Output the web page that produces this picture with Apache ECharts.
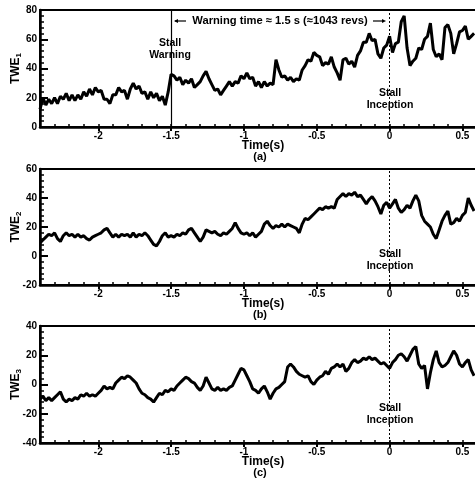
<!DOCTYPE html>
<html>
<head>
<meta charset="utf-8">
<script src="https://cdn.jsdelivr.net/npm/echarts@6/dist/echarts.min.js"></script>
<style>
  html, body { margin: 0; padding: 0; background: #fff; }
  #main { width: 475px; height: 479px; }
</style>
</head>
<body>
<div id="main"></div>
<script>
// time axis: samples every 0.02 s from -2.40 s
var t0 = -2.4, dt = 0.02;

var twe1 = [12, 20, 15, 19, 16, 20, 16, 21, 19, 23, 18, 22, 18, 22, 19, 24, 21, 26, 22, 27,
  24, 25, 19, 19, 16, 22, 22, 27, 24, 25, 19, 26, 30, 26, 28, 23, 24, 19, 24, 20,
  23, 18, 21, 15, 24, 36, 35, 32, 34, 29, 32, 30, 33, 27, 29, 31, 35, 38, 33, 29,
  25, 26, 22, 25, 28, 31, 28, 31, 30, 35, 33, 37, 33, 34, 28, 31, 27, 31, 28, 30,
  29, 46, 39, 34, 35, 32, 34, 31, 33, 32, 39, 42, 46, 45, 51, 49, 48, 42, 44, 43,
  48, 41, 37, 32, 46, 47, 43, 45, 41, 49, 52, 58, 58, 64, 59, 60, 50, 47, 54, 56,
  62, 51, 57, 58, 72, 76, 54, 42, 45, 47, 54, 53, 60, 62, 71, 53, 48, 50, 46, 68,
  70, 64, 50, 57, 65, 66, 69, 60, 62, 64];

var twe2 = [9, 11, 13, 15, 14, 16, 12, 10, 14, 16, 14, 15, 13, 15, 13, 14, 12, 11, 13, 14,
  15, 16, 18, 19, 16, 13, 15, 13, 15, 14, 15, 13, 16, 13, 15, 14, 16, 14, 11, 8,
  7, 10, 14, 16, 13, 14, 13, 15, 14, 16, 15, 18, 19, 16, 13, 10, 13, 18, 17, 16,
  17, 15, 14, 16, 15, 17, 19, 23, 19, 16, 15, 16, 14, 16, 13, 15, 17, 22, 24, 21,
  19, 21, 20, 22, 20, 22, 21, 20, 19, 16, 22, 26, 25, 27, 29, 31, 33, 32, 34, 33,
  34, 33, 39, 41, 43, 41, 43, 42, 44, 41, 42, 39, 36, 39, 41, 38, 34, 29, 35, 37,
  33, 36, 39, 33, 30, 32, 35, 33, 38, 42, 38, 28, 24, 22, 20, 15, 12, 18, 24, 28,
  31, 22, 23, 26, 24, 28, 30, 40, 35, 31];

var twe3 = [-10, -8, -11, -9, -11, -9, -7, -5, -10, -12, -10, -11, -9, -10, -7, -8, -6, -8, -7, -8,
  -6, -4, -1, -3, -2, -3, 1, 3, 5, 4, 6, 5, 3, 1, -3, -6, -7, -9, -10, -12,
  -9, -6, -7, -4, -5, -3, -4, -1, 1, 3, 5, 4, 2, 1, -2, -4, -1, 5, 1, -3,
  -4, -2, -4, -3, -4, -2, -1, 3, 7, 11, 10, 6, 2, -3, -4, -6, -3, -1, -5, -10,
  -6, -3, -2, 0, 2, 12, 14, 12, 9, 7, 6, 5, 6, 2, 0, 3, 5, 6, 9, 7,
  11, 12, 14, 12, 14, 9, 11, 15, 17, 15, 16, 18, 17, 19, 17, 18, 16, 14, 15, 13,
  11, 15, 17, 20, 21, 19, 16, 20, 24, 26, 14, 11, 13, -3, 8, 17, 23, 15, 12, 13,
  15, 19, 23, 20, 14, 12, 15, 17, 10, 6];

var xTicks = [-2, -1.5, -1, -0.5, 0, 0.5];
var yMins = [0, -20, -40];
var yMaxs = [80, 60, 40];
var subs = ['1', '2', '3'];
var tags = ['(a)', '(b)', '(c)'];

var FONT = "'Liberation Sans', Arial, sans-serif";
var tops = [10, 169, 326];
var heights = [117, 116, 117];

function pairs(arr) {
  return arr.map(function (v, i) { return [+(t0 + i * dt).toFixed(2), v]; });
}

var minorX = [];
for (var k = -24; k <= 5; k++) minorX.push(k / 10);

var grids = [], xAxes = [], yAxes = [], series = [], graphics = [];

[twe1, twe2, twe3].forEach(function (vals, p) {
  grids.push({ left: 40, right: -2, top: tops[p], height: heights[p], outerBoundsMode: 'none',
    show: true, borderColor: '#000', borderWidth: 2, backgroundColor: 'transparent' });

  // major ticks + labels
  xAxes.push({
    type: 'value', gridIndex: p, min: -2.4, max: 0.6, position: 'bottom',
    splitLine: { show: false },
    axisLine: { onZero: false, lineStyle: { color: '#000', width: 2.5 } },
    axisTick: { customValues: xTicks, inside: false, length: 4, lineStyle: { color: '#000', width: 2 } },
    axisLabel: { customValues: xTicks, color: '#000', fontFamily: FONT, fontWeight: 'bold', fontSize: 10, margin: 4 }
  });
  // minor ticks
  xAxes.push({
    type: 'value', gridIndex: p, min: -2.4, max: 0.6, position: 'bottom',
    splitLine: { show: false },
    axisLine: { show: false, onZero: false },
    axisTick: { customValues: minorX, inside: true, length: 3, lineStyle: { color: '#000', width: 1.5 } },
    axisLabel: { show: false }
  });

  yAxes.push({
    type: 'value', gridIndex: p, min: yMins[p], max: yMaxs[p], interval: 20,
    splitLine: { show: false },
    axisLine: { show: true, onZero: false, lineStyle: { color: '#000', width: 2.5 } },
    axisTick: { show: true, inside: true, length: 8, lineStyle: { color: '#000', width: 2 } },
    minorTick: { show: true, splitNumber: 5, length: 4, lineStyle: { color: '#000', width: 1.5 } },
    axisLabel: { color: '#000', fontFamily: FONT, fontWeight: 'bold', fontSize: 10, margin: 3 },
    name: '{a|TWE}{s|' + subs[p] + '}',
    nameLocation: 'middle', nameRotate: 90, nameGap: 17, nameMoveOverlap: false,
    nameTextStyle: {
      rich: {
        a: { fontFamily: FONT, fontWeight: 'bold', fontSize: 12, color: '#000', lineHeight: 14 },
        s: { fontFamily: FONT, fontWeight: 'bold', fontSize: 8, color: '#000', lineHeight: 14, verticalAlign: 'bottom', padding: [6, 0, 0, 0] }
      }
    }
  });

  var marks = [{ xAxis: 0, lineStyle: { type: [2, 2], width: 1, color: '#000' } }];
  if (p === 0) marks.push({ xAxis: -1.5, lineStyle: { type: 'solid', width: 1.2, color: '#000' } });

  series.push({
    type: 'line', xAxisIndex: p * 2, yAxisIndex: p,
    data: pairs(vals), showSymbol: false, symbol: 'none',
    lineStyle: { color: '#000', width: 3 },
    markLine: { silent: true, symbol: ['none', 'none'], label: { show: false }, data: marks }
  });

  var axisY = tops[p] + heights[p];
  graphics.push({ type: 'text', x: 263, y: axisY + 19, style: { text: 'Time(s)', font: 'bold 12px ' + FONT, fill: '#000', align: 'center', verticalAlign: 'middle' } });
  graphics.push({ type: 'text', x: 260, y: axisY + 30, style: { text: tags[p], font: 'bold 11px ' + FONT, fill: '#000', align: 'center', verticalAlign: 'middle' } });
});

var stallY = [93, 254, 408];
stallY.forEach(function (y) {
  graphics.push({ type: 'text', x: 390, y: y - 6, style: { text: 'Stall\nInception', font: 'bold 10.5px ' + FONT, fill: '#000', align: 'center', verticalAlign: 'top', lineHeight: 12, backgroundColor: '#fff' } });
});
graphics.push({ type: 'text', x: 170, y: 37, style: { text: 'Stall\nWarning', font: 'bold 10.5px ' + FONT, fill: '#000', align: 'center', verticalAlign: 'top', lineHeight: 12, backgroundColor: '#fff' } });
graphics.push({ type: 'text', x: 280, y: 21, style: { text: 'Warning time \u2248 1.5 s (\u22481043 revs)', font: 'bold 11.2px ' + FONT, fill: '#000', align: 'center', verticalAlign: 'middle' } });
// arrow heads of the warning-time span
graphics.push({ type: 'line', shape: { x1: 175, y1: 21, x2: 186, y2: 21 }, style: { stroke: '#000', lineWidth: 1.2 } });
graphics.push({ type: 'polygon', shape: { points: [[174, 21], [178, 19], [178, 23]] }, style: { fill: '#000' } });
graphics.push({ type: 'line', shape: { x1: 373, y1: 21, x2: 384, y2: 21 }, style: { stroke: '#000', lineWidth: 1.2 } });
graphics.push({ type: 'polygon', shape: { points: [[386, 21], [382, 19], [382, 23]] }, style: { fill: '#000' } });

var chart = echarts.init(document.getElementById('main'), null, { renderer: 'canvas' });
chart.setOption({
  animation: false,
  backgroundColor: '#fff',
  grid: grids,
  xAxis: xAxes,
  yAxis: yAxes,
  series: series,
  graphic: graphics
});
</script>
</body>
</html>
